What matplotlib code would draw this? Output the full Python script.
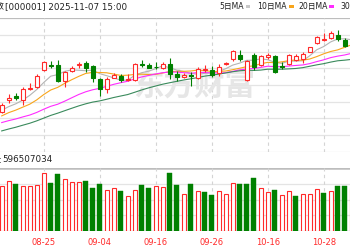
import numpy as np
import matplotlib
matplotlib.use("Agg")
import matplotlib.pyplot as plt
from matplotlib.patches import Rectangle

plt.rcParams['font.family'] = ['DejaVu Sans', 'Noto Sans CJK SC']

# trading days shown (the picture is a crop of a wider chart)
dates = ['08-15', '08-18', '08-19', '08-20', '08-21', '08-22', '08-25', '08-26', '08-27', '08-28',
         '08-29', '09-01', '09-02', '09-03', '09-04', '09-05', '09-08', '09-09', '09-10', '09-11',
         '09-12', '09-15', '09-16', '09-17', '09-18', '09-19', '09-22', '09-23', '09-24', '09-25',
         '09-26', '09-29', '09-30', '10-09', '10-10', '10-13', '10-14', '10-15', '10-16', '10-17',
         '10-20', '10-21', '10-22', '10-23', '10-24', '10-27', '10-28', '10-29', '10-30', '10-31',
         '11-03']

opens = [3666, 3718, 3734, 3717, 3764, 3776, 3850, 3874, 3873, 3800,
         3846, 3871, 3880, 3869, 3810, 3764, 3816, 3822, 3806, 3806,
         3876, 3871, 3865, 3859, 3879, 3833, 3821, 3829, 3815, 3850,
         3849, 3837, 3876, 3901, 3919, 3806, 3917, 3872, 3908, 3912,
         3866, 3879, 3895, 3899, 3931, 3972, 3985, 3992, 4005, 3983,
         3965]
highs = [3704, 3746, 3748, 3776, 3791, 3832, 3890, 3890, 3894, 3846,
         3868, 3886, 3890, 3872, 3816, 3821, 3837, 3833, 3833, 3881,
         3895, 3881, 3886, 3886, 3903, 3847, 3839, 3841, 3864, 3872,
         3868, 3879, 3888, 3937, 3937, 3895, 3926, 3915, 3926, 3919,
         3887, 3921, 3921, 3930, 3954, 4001, 4014, 4023, 4027, 3992,
         3983]
lows = [3660, 3706, 3717, 3695, 3762, 3771, 3846, 3858, 3798, 3775,
        3841, 3860, 3843, 3798, 3736, 3747, 3815, 3797, 3802, 3802,
        3864, 3859, 3855, 3855, 3810, 3802, 3813, 3779, 3810, 3842,
        3820, 3824, 3872, 3890, 3890, 3802, 3850, 3868, 3899, 3837,
        3853, 3872, 3890, 3883, 3928, 3965, 3979, 3988, 3979, 3952,
        3961]
closes = [3696.8, 3728.0, 3727.3, 3766.2, 3771.1, 3825.8, 3883.6, 3868.4, 3800.4, 3843.6,
          3857.9, 3875.5, 3858.1, 3813.6, 3765.9, 3812.5, 3826.8, 3807.3, 3812.2, 3875.3,
          3870.6, 3860.5, 3861.9, 3876.3, 3831.7, 3820.1, 3828.6, 3821.8, 3853.6, 3853.3,
          3828.1, 3862.5, 3882.8, 3934.0, 3897.0, 3889.5, 3865.2, 3912.2, 3916.2, 3839.8,
          3863.9, 3916.3, 3913.8, 3922.4, 3950.3, 3996.9, 3988.2, 4016.3, 3986.9, 3954.8,
          3976.5]

ma5 = [3672.0, 3688.1, 3700.4, 3716.9, 3737.9, 3763.7, 3794.8, 3823.0, 3829.9, 3844.4,
       3850.8, 3849.2, 3847.1, 3849.7, 3834.2, 3825.1, 3815.4, 3805.2, 3804.9, 3826.8,
       3838.4, 3845.2, 3856.1, 3868.9, 3860.2, 3850.1, 3843.7, 3835.7, 3831.2, 3835.5,
       3837.1, 3843.9, 3856.1, 3872.1, 3880.9, 3893.2, 3893.7, 3899.6, 3896.0, 3884.6,
       3879.5, 3889.7, 3890.0, 3891.2, 3913.3, 3939.9, 3954.3, 3974.8, 3987.7, 3988.6,
       3984.5]
ma10 = [3647.0, 3661.5, 3672.5, 3685.7, 3698.8, 3717.9, 3741.5, 3761.7, 3773.4, 3791.2,
        3807.3, 3822.0, 3835.1, 3839.8, 3839.3, 3838.0, 3832.3, 3826.2, 3827.3, 3830.5,
        3831.8, 3830.3, 3830.7, 3836.9, 3843.5, 3844.3, 3844.5, 3845.9, 3850.1, 3847.9,
        3843.6, 3843.8, 3845.9, 3851.7, 3858.2, 3865.2, 3868.8, 3877.9, 3884.1, 3882.8,
        3886.4, 3891.7, 3894.8, 3893.6, 3899.0, 3909.7, 3922.0, 3932.4, 3939.5, 3951.0,
        3962.2]
ma20 = [3617.5, 3626.0, 3633.3, 3642.4, 3650.7, 3662.3, 3676.6, 3689.5, 3698.7, 3712.3,
        3727.2, 3741.8, 3753.8, 3762.8, 3769.1, 3778.0, 3786.9, 3794.0, 3800.4, 3810.9,
        3819.6, 3826.2, 3832.9, 3838.4, 3841.4, 3841.2, 3838.4, 3836.1, 3838.7, 3839.2,
        3837.7, 3837.1, 3838.3, 3844.3, 3850.9, 3854.8, 3856.7, 3861.9, 3867.1, 3865.4,
        3865.0, 3867.8, 3870.4, 3872.7, 3878.6, 3887.5, 3895.4, 3905.2, 3911.8, 3916.9,
        3924.3]
ma30 = [3580.5, 3589.0, 3596.7, 3605.7, 3614.4, 3625.0, 3637.1, 3649.2, 3659.1, 3670.0,
        3680.8, 3691.3, 3700.5, 3708.2, 3713.5, 3720.8, 3728.5, 3735.1, 3741.6, 3751.7,
        3762.0, 3771.3, 3779.4, 3787.5, 3793.9, 3800.1, 3806.1, 3811.3, 3816.9, 3823.2,
        3827.6, 3832.0, 3837.2, 3842.8, 3847.0, 3849.2, 3848.5, 3850.0, 3853.8, 3853.7,
        3853.9, 3855.3, 3857.1, 3860.7, 3866.9, 3873.1, 3878.4, 3885.4, 3891.2, 3893.9,
        3897.4]

# volume (millions) and whether the day closed up vs the previous close
volumes = [675, 755, 700, 675, 680, 695, 865, 720, 855, 775,
           735, 730, 745, 640, 705, 615, 650, 600, 530, 615,
           695, 640, 670, 655, 870, 690, 555, 700, 595, 580,
           545, 595, 560, 715, 705, 705, 790, 640, 585, 615,
           545, 595, 530, 560, 560, 625, 570, 595, 670, 670,
           640]
vol_up = [1, 1, 0, 1, 1, 1, 1, 0, 0, 1,
          1, 1, 0, 0, 0, 1, 1, 0, 1, 1,
          0, 0, 1, 1, 0, 0, 1, 0, 1, 0,
          0, 1, 1, 1, 0, 0, 0, 1, 1, 0,
          1, 1, 0, 1, 1, 1, 0, 1, 0, 0,
          1]

label_idx = [-2, 6, 14, 22, 30, 38, 46]
label_txt = ['08-13', '08-25', '09-04', '09-16', '09-26', '10-16', '10-28']

RED = '#ff2a2a'
GREEN = '#008000'
W, H = 350, 250


def box(top, bottom):
    return [0, 1 - bottom / H, 1, (bottom - top) / H]


fig = plt.figure(figsize=(3.5, 2.5), dpi=100)
ax = fig.add_axes(box(18, 152))
axv = fig.add_axes(box(168, 231))
x = np.arange(len(dates))
xl = (-1.7 / 7, (350 - 1.7) / 7)

# price panel
ymin, ymax = 3487.1, 4080.7
ax.set_xlim(*xl)
ax.set_ylim(ymin, ymax)
for v in np.linspace(ymin, ymax, 9)[1:-1]:
    ax.axhline(v, color='#e4e4e4', lw=0.9, zorder=0.5)
ax.axhline(ymin, color='#e4e4e4', lw=0.9, zorder=0.5)
ax.axhline(ymax, color='#bdbdbd', lw=1.6, zorder=0.5)
for i in label_idx[1:]:
    ax.axvline(i, color='#d4d4d4', lw=0.8, ls=(0, (3, 3)), zorder=0.5)

# watermark
ax.text(194.5 / W, 1 - 86 / H, '东方财富', transform=fig.transFigure, fontsize=22,
        fontweight='bold', color='#e6e6e6', ha='center', va='center',
        family='Noto Sans CJK SC', zorder=0.6)

ax.plot(x, ma5, color='#b4b4b4', lw=0.8, zorder=2)
ax.plot(x, ma10, color='#f8a51c', lw=0.8, zorder=2)
ax.plot(x, ma20, color='#ff2bff', lw=0.8, zorder=2)
ax.plot(x, ma30, color='#3a8a5c', lw=0.8, zorder=2)

for i in x:
    o, h, l, c = opens[i], highs[i], lows[i], closes[i]
    up = c >= o
    col = RED if up else GREEN
    ax.vlines(i, l, h, color=col, lw=0.8, zorder=3)
    body = c - o
    if abs(body) < 2.5:
        body = 2.5 if up else -2.5
    ax.bar(i, body, bottom=o, width=0.58, facecolor='white' if up else GREEN,
           edgecolor=col, linewidth=0.8, zorder=4)

ax.axis('off')

# volume panel
vmax = 945
axv.set_xlim(*xl)
axv.set_ylim(0, vmax)
for v in np.linspace(0, vmax, 5)[1:-1]:
    axv.axhline(v, color='#e4e4e4', lw=0.9, zorder=0.5)
axv.axhline(vmax, color='#bdbdbd', lw=1.8, zorder=0.5)
axv.axhline(0, color='#bdbdbd', lw=1.0, zorder=0.5)
for i in label_idx[1:]:
    axv.axvline(i, color='#d4d4d4', lw=0.8, ls=(0, (3, 3)), zorder=0.5)
for i in x:
    if vol_up[i]:
        axv.bar(i, volumes[i], width=0.62, facecolor='white', edgecolor=RED,
                linewidth=0.8, zorder=3)
    else:
        axv.bar(i, volumes[i], width=0.67, facecolor=GREEN, edgecolor=GREEN,
                linewidth=0.3, zorder=3)
axv.axis('off')
for i, t in zip(label_idx, label_txt):
    axv.text(i, -0.105, t, transform=axv.get_xaxis_transform(), ha='center', va='top',
             fontsize=6.0, color=RED, clip_on=False)

# header texts
fig.text(5 / W, 1 - 6.5 / H, '上证指数', ha='right', va='center', fontsize=6.3,
         family='Noto Sans CJK SC', color='#222222')
fig.text(5 / W, 1 - 6.5 / H, '[000001] 2025-11-07 15:00', ha='left', va='center',
         fontsize=6.3, color='#222222')
legend = [('5日MA', 219, '#c8c8c8'), ('10日MA', 257, '#f8a51c'),
          ('20日MA', 298, '#ff2bff'), ('30日MA', 340, '#3a8a5c')]
for txt, lx, col in legend:
    t = fig.text(lx / W, 1 - 6.5 / H, txt, ha='left', va='center', fontsize=5.6,
                 color='#222222')
    fig.canvas.draw()
    bb = t.get_window_extent()
    fig.patches.append(Rectangle(((bb.x1 + 2) / W, 1 - 8 / H), 5 / W, 2.5 / H,
                                 transform=fig.transFigure, facecolor=col,
                                 edgecolor='none'))

fig.text(2 / W, 1 - 160 / H, '成交量:', ha='right', va='center', fontsize=6.3,
         family='Noto Sans CJK SC', color='#222222')
fig.text(2 / W, 1 - 160 / H, '596507034', ha='left', va='center', fontsize=6.3,
         color='#222222')

fig.savefig('out.png', dpi=100)
